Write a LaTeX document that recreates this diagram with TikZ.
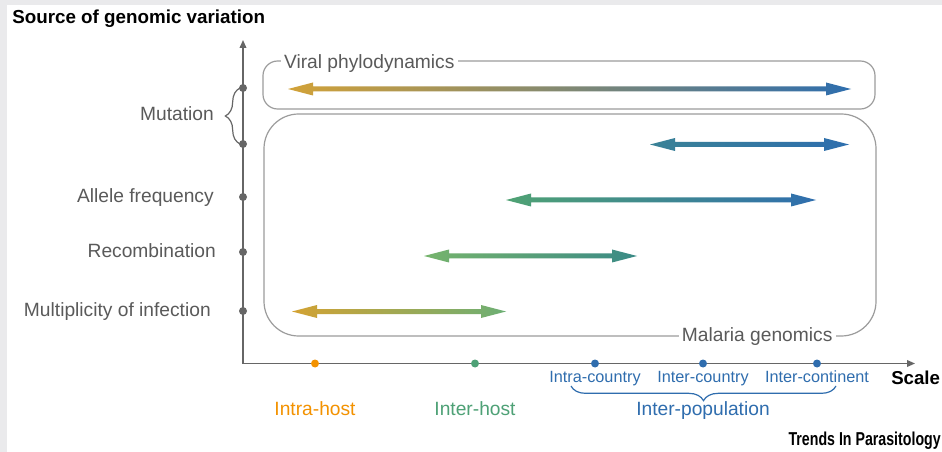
\documentclass[tikz,border=0pt]{standalone}
\usepackage{fontspec}
\setmainfont{Liberation Sans}
\usepackage{graphicx}
\usetikzlibrary{arrows.meta,decorations.pathreplacing}
\definecolor{txtgray}{HTML}{5A5A5A}
\definecolor{boxgray}{HTML}{9C9C9C}
\definecolor{axgray}{HTML}{666666}
\definecolor{hostorange}{HTML}{F39200}
\definecolor{hostgreen}{HTML}{4EA176}
\definecolor{popblue}{HTML}{2F6DAE}
\definecolor{framegray}{HTML}{EAEAEC}
\newcommand{\rangearrow}[6][]{%
\shade[#1,left color=#5,right color=#6](#3,#2)--(#3+25,#2-6.5)--(#3+25,#2-2.5)--(#4-25,#2-2.5)--(#4-25,#2-6.5)--(#4,#2)--(#4-25,#2+6.5)--(#4-25,#2+2.5)--(#3+25,#2+2.5)--(#3+25,#2+6.5)--cycle;}
\begin{document}
\begin{tikzpicture}[x=0.75pt,y=-0.75pt,
  lab/.style={text=txtgray,font=\fontsize{14.4}{17}\selectfont,inner sep=0pt,text height=10.3pt,text depth=0pt},
  boxlab/.style={lab,fill=white,inner xsep=2.5pt},
  boxline/.style={draw=boxgray,line width=0.9pt},
  axis/.style={draw=axgray,line width=1.1pt,-{Triangle[length=6pt,width=5pt]}},
  small/.style={text=popblue,font=\fontsize{12.2}{14}\selectfont,inner sep=0pt,text height=8.7pt,text depth=0pt}]
\fill[framegray](0,0)rectangle(942,452);
\fill[white](7,5)rectangle(942,452);
\useasboundingbox(0,0)rectangle(942,452);
\node[anchor=base west,inner sep=0pt,font=\fontsize{14.1}{17}\selectfont\bfseries](title)at(12,24){Source of genomic variation};
\draw[boxline,rounded corners=11pt](263,61)rectangle(875,109);
\draw[boxline,rounded corners=26pt](264,114)rectangle(876,336);
\node[boxlab,anchor=west](viral)at(280.5,61.5){Viral phylodynamics};
\node[boxlab,anchor=east](malaria)at(836,335){Malaria genomics};
\draw[axis](243,363.5)--(243,40);
\draw[axis](243,363.5)--(915,363.5);
\foreach \y in {88,144,197,252,311}
  \fill[axgray](243,\y)circle(3pt);
\draw[axgray,line width=0.9pt,decorate,decoration={brace,amplitude=11pt}](240,144)--(240,88);
\node[lab,anchor=east](mut)at(214,114){Mutation};
\node[lab,anchor=east](allele)at(214,196){Allele frequency};
\node[lab,anchor=east](recomb)at(216,251){Recombination};
\node[lab,anchor=east](moi)at(211,310){Multiplicity of infection};
\rangearrow[middle color={rgb,255:red,76;green,158;blue,114}]{89}{288}{851}{{rgb,255:red,210;green,162;blue,56}}{{rgb,255:red,46;green,110;blue,174}}
\rangearrow{144.5}{650}{849}{{rgb,255:red,58;green,130;blue,150}}{{rgb,255:red,46;green,110;blue,174}}
\rangearrow{200}{506}{816}{{rgb,255:red,79;green,162;blue,115}}{{rgb,255:red,47;green,110;blue,174}}
\rangearrow{256}{424}{637}{{rgb,255:red,118;green,180;blue,108}}{{rgb,255:red,58;green,138;blue,134}}
\rangearrow{311.5}{292}{506}{{rgb,255:red,211;green,162;blue,51}}{{rgb,255:red,108;green,175;blue,116}}
\fill[hostorange](315,363.5)circle(3pt);
\fill[hostgreen](475,363.5)circle(3pt);
\foreach \x in {595,703,817}
  \fill[popblue](\x,363.5)circle(3pt);
\node[lab,text=hostorange](intrahost)at(315,409){Intra-host};
\node[lab,text=hostgreen](interhost)at(475,409){Inter-host};
\node[small](intracountry)at(595,377){Intra-country};
\node[small](intercountry)at(703,377){Inter-country};
\node[small](intercontinent)at(817,377){Inter-continent};
\draw[popblue,line width=0.9pt,decorate,decoration={brace,amplitude=11pt}](836,386)--(571,386);
\node[lab,text=popblue](interpop)at(703,409){Inter-population};
\node[anchor=west,inner sep=0pt,font=\fontsize{14}{17}\selectfont\bfseries](scale)at(891,378){Scale};
\node[anchor=east,inner sep=0pt,font=\fontsize{14}{15}\selectfont\bfseries](journal)at(941,441){\scalebox{0.76}[1]{Trends In Parasitology}};
\end{tikzpicture}
\end{document}
